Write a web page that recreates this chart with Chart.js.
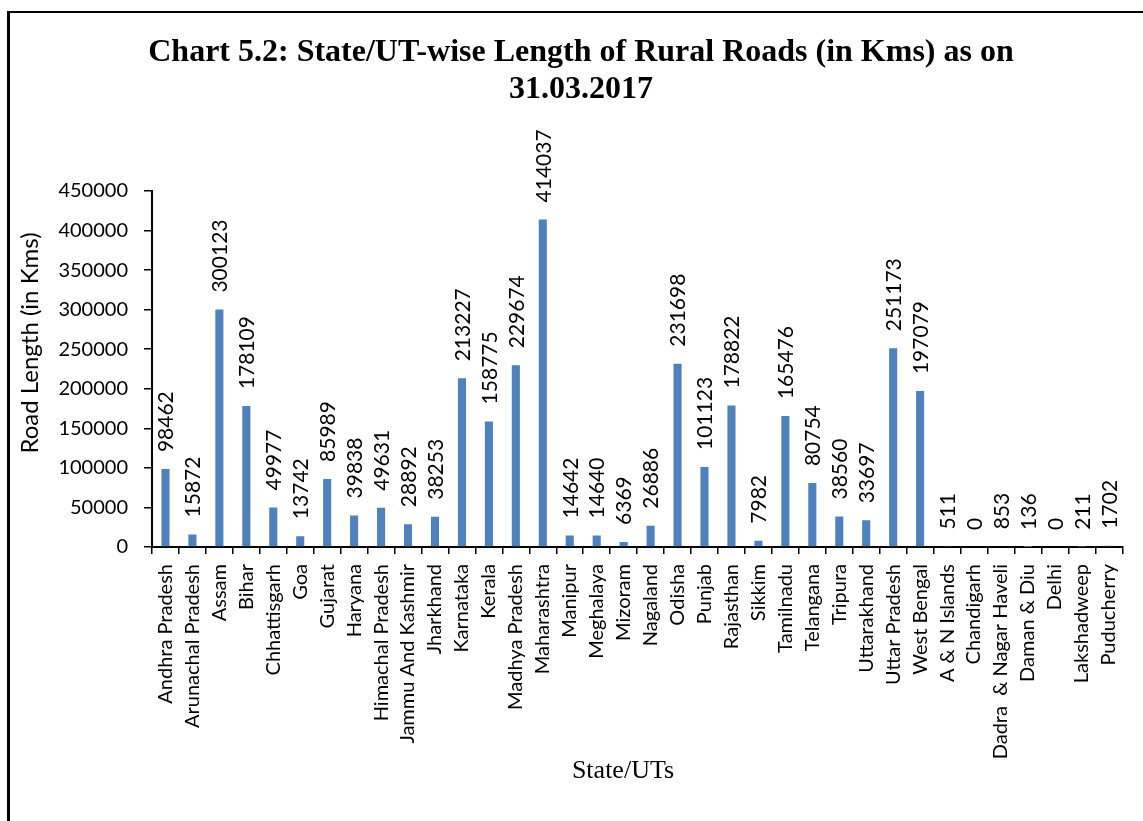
<!DOCTYPE html>
<html>
<head>
<meta charset="utf-8">
<script src="https://cdn.jsdelivr.net/npm/chart.js@4.4.1/dist/chart.umd.min.js"></script>
<style>
  html, body { margin: 0; padding: 0; background: #fff; }
  #wrap { position: absolute; left: 0; top: 0; width: 1143px; height: 821px; }
</style>
</head>
<body>
<div id="wrap"><canvas id="c" width="1143" height="821"></canvas></div>
<script>
const categories = [
  'Andhra Pradesh','Arunachal Pradesh','Assam','Bihar','Chhattisgarh','Goa','Gujarat','Haryana',
  'Himachal Pradesh','Jammu And Kashmir','Jharkhand','Karnataka','Kerala','Madhya Pradesh',
  'Maharashtra','Manipur','Meghalaya','Mizoram','Nagaland','Odisha','Punjab','Rajasthan','Sikkim',
  'Tamilnadu','Telangana','Tripura','Uttarakhand','Uttar Pradesh','West Bengal','A & N Islands',
  'Chandigarh','Dadra  & Nagar Haveli','Daman & Diu','Delhi','Lakshadweep','Puducherry'
];
const roadLength = [
  98462, 15872, 300123, 178109, 49977, 13742, 85989, 39838,
  49631, 28892, 38253, 213227, 158775, 229674,
  414037, 14642, 14640, 6369, 26886, 231698, 101123, 178822, 7982,
  165476, 80754, 38560, 33697, 251173, 197079, 511,
  0, 853, 136, 0, 211, 1702
];
const yTicks = [0, 50000, 100000, 150000, 200000, 250000, 300000, 350000, 400000, 450000];
const titleLines = ['Chart 5.2: State/UT-wise Length of Rural Roads (in Kms) as on', '31.03.2017'];
const yTitle = 'Road Length (in Kms)';
const xTitle = 'State/UTs';

const SANS = 'Lato, "Open Sans", sans-serif';
const SERIF = '"Liberation Serif", "Times New Roman", serif';

const decor = {
  id: 'decor',
  beforeDraw(chart) {
    const ctx = chart.ctx;
    ctx.save();
    ctx.fillStyle = '#fff';
    ctx.fillRect(0, 0, chart.width, chart.height);
    ctx.fillStyle = '#000';
    ctx.fillRect(7, 11, 3, 821);
    ctx.fillRect(7, 11, 1143, 2);
    ctx.restore();
  },
  afterDraw(chart) {
    const ctx = chart.ctx;
    const area = chart.chartArea;
    ctx.save();
    ctx.fillStyle = '#000';
    ctx.font = 'bold 32px ' + SERIF;
    ctx.textAlign = 'center';
    ctx.textBaseline = 'alphabetic';
    ctx.fillText(titleLines[0], 581, 61);
    ctx.fillText(titleLines[1], 581, 98);
    ctx.font = '26px ' + SERIF;
    ctx.fillText(xTitle, 623, 778);
    ctx.translate(30, (area.top + area.bottom) / 2 - 26);
    ctx.rotate(-Math.PI / 2);
    ctx.font = '24px ' + SANS;
    ctx.textBaseline = 'middle';
    ctx.fillText(yTitle, 0, 0);
    ctx.restore();
  },
  afterDatasetsDraw(chart) {
    const ctx = chart.ctx;
    const meta = chart.getDatasetMeta(0);
    ctx.save();
    ctx.fillStyle = '#000';
    ctx.font = '21px ' + SANS;
    ctx.textAlign = 'left';
    ctx.textBaseline = 'middle';
    meta.data.forEach((bar, i) => {
      ctx.save();
      ctx.translate(bar.x + 1, bar.y - 17);
      ctx.rotate(-Math.PI / 2);
      ctx.fillText(String(roadLength[i]), 0, 0);
      ctx.restore();
    });
    ctx.restore();
  }
};

new Chart(document.getElementById('c'), {
  type: 'bar',
  data: {
    labels: categories,
    datasets: [{
      data: roadLength,
      backgroundColor: '#4F81BD',
      borderWidth: 0,
      categoryPercentage: 1,
      barPercentage: 0.3
    }]
  },
  options: {
    responsive: false,
    animation: false,
    devicePixelRatio: 1,
    layout: { padding: { left: 0, right: 16, top: 191, bottom: 0 } },
    plugins: { legend: { display: false }, title: { display: false }, tooltip: { enabled: false } },
    scales: {
      x: {
        offset: true,
        grid: { display: true, drawOnChartArea: false, drawTicks: true, tickLength: 7, color: '#000', lineWidth: 1.5, offset: true },
        border: { display: true, color: '#000', width: 2 },
        ticks: {
          autoSkip: false, minRotation: 90, maxRotation: 90, padding: 10,
          color: '#000', font: { family: SANS, size: 20 }
        },
        afterFit(s) { s.height = 821 - 547; }
      },
      y: {
        min: 0, max: 450000,
        afterBuildTicks(s) { s.ticks = yTicks.map(v => ({ value: v })); },
        grid: { display: true, drawOnChartArea: false, drawTicks: true, tickLength: 8, color: '#000', lineWidth: 1.5 },
        border: { display: true, color: '#000', width: 2 },
        ticks: { color: '#000', padding: 16, font: { family: SANS, size: 20 }, callback: v => String(v) },
        afterFit(s) { s.width = 152; }
      }
    }
  },
  plugins: [decor]
});
</script>
</body>
</html>
